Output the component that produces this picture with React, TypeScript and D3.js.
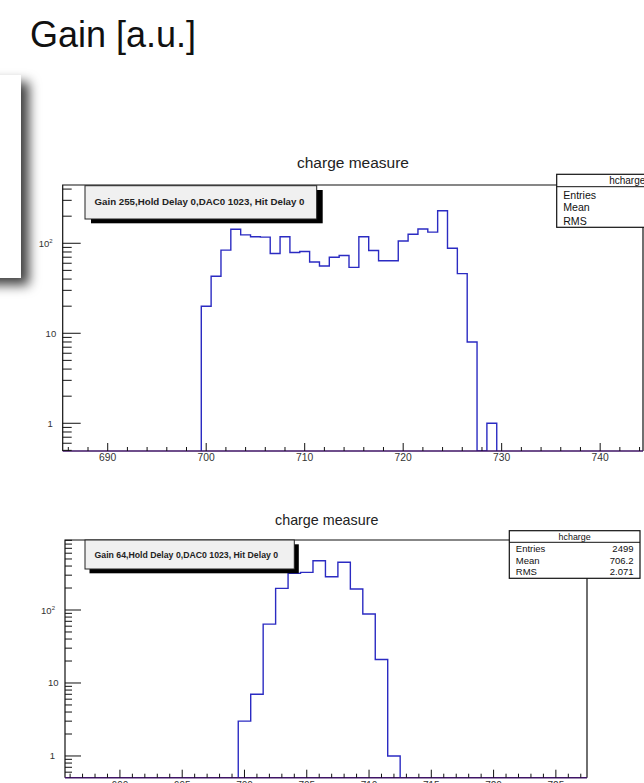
import { useEffect, useRef } from 'react';
import * as d3 from 'd3';

const FONT = '"Liberation Sans", Arial, Helvetica, sans-serif';

// Gain 255 histogram (bin centres, counts)
const topBins = [700, 701, 702, 703, 704, 705, 706, 707, 708, 709, 710, 711, 712, 713, 714, 715, 716, 717, 718, 719, 720, 721, 722, 723, 724, 725, 726, 727, 728, 729];
const topCounts = [20, 43, 84, 143, 124, 118, 117, 77, 118, 79, 81, 62, 56, 70, 73, 54, 118, 83, 64, 64, 106, 126, 144, 133, 230, 88, 46, 8, 0, 1];
const topXTicks = [690, 700, 710, 720, 730, 740];

// Gain 64 histogram
const botBins = [700, 701, 702, 703, 704, 705, 706, 707, 708, 709, 710, 711, 712];
const botCounts = [3, 7, 64, 198, 318, 328, 474, 286, 450, 194, 88, 21, 1];
const botXTicks = [690, 695, 700, 705, 710, 715, 720, 725];

const yMajorTicks = [1, 10, 100];
const statsLabels = ['Entries', 'Mean', 'RMS'];
const botStatsValues = ['2499', '706.2', '2.071'];

type Panel = {
  frame: { left: number; right: number; top: number; bottom: number };
  xDomain: [number, number];
  yDomain: [number, number];
  bins: number[];
  counts: number[];
  xTicks: number[];
  minorStep: number;
  majorLen: number;
  minorLen: number;
  xLabelY: number;
  labelSize: number;
  title: { x: number; y: number; size: number };
  legend: { x: number; y: number; w: number; h: number; dx: number; dy: number; text: string; size: number; len: number; base: number };
  stats: { x: number; y: number; w: number; h: number; sep: number; size: number; rows: number[]; values: string[] | null };
};

const panels: Panel[] = [
  {
    frame: { left: 62.7, right: 643, top: 185, bottom: 451 },
    xDomain: [685.43, 744.35],
    yDomain: [0.492, 444],
    bins: topBins,
    counts: topCounts,
    xTicks: topXTicks,
    minorStep: 2,
    majorLen: 18,
    minorLen: 9,
    xLabelY: 461,
    labelSize: 10.3,
    title: { x: 353, y: 168, size: 15.5 },
    legend: { x: 85, y: 185.7, w: 231.7, h: 33.3, dx: 6, dy: 4.3, text: 'Gain 255,Hold Delay 0,DAC0 1023, Hit Delay 0', size: 9.6, len: 210, base: 205 },
    stats: { x: 556.7, y: 174.3, w: 141, h: 53, sep: 186.7, size: 10.6, rows: [198.5, 211, 224.5], values: null },
  },
  {
    frame: { left: 65, right: 587, top: 540, bottom: 777.7 },
    xDomain: [685.59, 727.5],
    yDomain: [0.504, 910],
    bins: botBins,
    counts: botCounts,
    xTicks: botXTicks,
    minorStep: 1,
    majorLen: 16,
    minorLen: 7,
    xLabelY: 788.5,
    labelSize: 10,
    title: { x: 326.7, y: 525, size: 14.3 },
    legend: { x: 85, y: 540, w: 209.3, h: 29, dx: 4.5, dy: 4.3, text: 'Gain 64,Hold Delay 0,DAC0 1023, Hit Delay 0', size: 8.7, len: 183.6, base: 557.5 },
    stats: { x: 509.3, y: 530.7, w: 130.7, h: 47.6, sep: 542.3, size: 9.5, rows: [552.3, 563.6, 575], values: botStatsValues },
  },
];

function drawPanel(svg: d3.Selection<SVGSVGElement, unknown, null, undefined>, p: Panel, idx: number) {
  const { frame: f } = p;
  const x = d3.scaleLinear().domain(p.xDomain).range([f.left, f.right]);
  const y = d3.scaleLog().domain(p.yDomain).range([f.bottom, f.top]).clamp(true);
  const g = svg.append('g');

  // clip
  const clipId = `clip-${idx}`;
  svg.append('defs').append('clipPath').attr('id', clipId)
    .append('rect').attr('x', f.left).attr('y', f.top).attr('width', f.right - f.left).attr('height', f.bottom - f.top);

  // histogram outline
  const pts: [number, number][] = [];
  const y0 = p.yDomain[0];
  pts.push([p.bins[0] - 0.5, y0]);
  p.bins.forEach((b, i) => {
    const v = Math.max(p.counts[i], y0);
    pts.push([b - 0.5, v]);
    pts.push([b + 0.5, v]);
  });
  pts.push([p.bins[p.bins.length - 1] + 0.5, y0]);
  const line = d3.line<[number, number]>().x(d => x(d[0])).y(d => y(d[1]));
  g.append('path')
    .attr('d', line(pts))
    .attr('fill', 'none')
    .attr('stroke', '#2b2bc2')
    .attr('stroke-width', 1.4)
    .attr('clip-path', `url(#${clipId})`);

  // frame
  g.append('path')
    .attr('d', `M${f.left},${f.bottom}V${f.top}H${f.right}V${f.bottom}`)
    .attr('fill', 'none').attr('stroke', '#111').attr('stroke-width', 1.2);
  g.append('line')
    .attr('x1', f.left).attr('x2', f.right).attr('y1', f.bottom).attr('y2', f.bottom)
    .attr('stroke', '#3f1466').attr('stroke-width', 1.6);

  // x ticks
  const minor = d3.range(Math.ceil(p.xDomain[0] / p.minorStep) * p.minorStep, p.xDomain[1], p.minorStep);
  g.selectAll(null).data(minor).enter().append('line')
    .attr('x1', d => x(d)).attr('x2', d => x(d))
    .attr('y1', f.bottom).attr('y2', d => f.bottom - (p.xTicks.includes(d) ? 8 : 4))
    .attr('stroke', '#111').attr('stroke-width', 1);
  g.selectAll(null).data(p.xTicks).enter().append('text')
    .attr('x', d => x(d)).attr('y', p.xLabelY)
    .attr('text-anchor', 'middle')
    .attr('font-family', FONT).attr('font-size', p.labelSize).attr('fill', '#333')
    .text(d => d);

  // y ticks (log)
  const yMinor: number[] = [];
  [0.1, 1, 10, 100].forEach(dec => {
    for (let k = 2; k <= 9; k++) {
      const v = k * dec;
      if (v >= p.yDomain[0] && v <= p.yDomain[1]) yMinor.push(v);
    }
  });
  g.selectAll(null).data(yMinor).enter().append('line')
    .attr('x1', f.left).attr('x2', f.left + p.minorLen)
    .attr('y1', d => y(d)).attr('y2', d => y(d))
    .attr('stroke', '#111').attr('stroke-width', 1);
  g.selectAll(null).data(yMajorTicks).enter().append('line')
    .attr('x1', f.left).attr('x2', f.left + p.majorLen)
    .attr('y1', d => y(d)).attr('y2', d => y(d))
    .attr('stroke', '#111').attr('stroke-width', 1);
  yMajorTicks.forEach(v => {
    const t = g.append('text')
      .attr('y', y(v) + 3.5)
      .attr('font-family', FONT).attr('font-size', 9.5).attr('fill', '#333')
      .attr('text-anchor', 'end');
    if (v === 100) {
      t.attr('x', f.left - 10).text('10');
      t.append('tspan').attr('dy', -4).attr('font-size', 6).text('2');
    } else if (v === 10) {
      t.attr('x', f.left - 6.5).text('10');
    } else {
      t.attr('x', f.left - 10).text('1');
    }
  });

  // title
  g.append('text')
    .attr('x', p.title.x).attr('y', p.title.y)
    .attr('text-anchor', 'middle')
    .attr('font-family', FONT).attr('font-size', p.title.size).attr('fill', '#222')
    .text('charge measure');

  // legend pave with shadow
  const L = p.legend;
  g.append('rect').attr('x', L.x + L.dx).attr('y', L.y + L.dy).attr('width', L.w).attr('height', L.h).attr('fill', '#000');
  g.append('rect').attr('x', L.x).attr('y', L.y).attr('width', L.w).attr('height', L.h)
    .attr('fill', '#f0f0f0').attr('stroke', '#222').attr('stroke-width', 1);
  g.append('text')
    .attr('x', L.x + 9.5).attr('y', L.base)
    .attr('font-family', FONT).attr('font-size', L.size).attr('font-weight', 'bold').attr('fill', '#222')
    .attr('textLength', L.len).attr('lengthAdjust', 'spacingAndGlyphs')
    .text(L.text);

  // stats box
  const S = p.stats;
  g.append('rect').attr('x', S.x).attr('y', S.y).attr('width', S.w).attr('height', S.h)
    .attr('fill', '#fff').attr('stroke', '#111').attr('stroke-width', 1.2);
  g.append('line').attr('x1', S.x).attr('x2', S.x + S.w).attr('y1', S.sep).attr('y2', S.sep)
    .attr('stroke', '#111').attr('stroke-width', 1);
  g.append('text')
    .attr('x', S.x + S.w / 2).attr('y', S.sep - 2.5)
    .attr('text-anchor', 'middle')
    .attr('font-family', FONT).attr('font-size', S.size - 0.6).attr('fill', '#111')
    .text('hcharge');
  statsLabels.forEach((lab, i) => {
    g.append('text')
      .attr('x', S.x + 6.5).attr('y', S.rows[i])
      .attr('font-family', FONT).attr('font-size', S.size).attr('fill', '#111')
      .text(lab);
    if (S.values) {
      g.append('text')
        .attr('x', S.x + S.w - 6.5).attr('y', S.rows[i])
        .attr('text-anchor', 'end')
        .attr('font-family', FONT).attr('font-size', S.size).attr('fill', '#111')
        .text(S.values[i]);
    }
  });
}

export default function App() {
  const svgRef = useRef<SVGSVGElement>(null);

  useEffect(() => {
    const svg = d3.select(svgRef.current as SVGSVGElement);
    svg.selectAll('*').remove();

    // slide background
    svg.append('rect').attr('width', 644).attr('height', 783).attr('fill', '#fff');

    // shadowed box at the left edge
    const defs = svg.append('defs');
    const filt = defs.append('filter').attr('id', 'boxShadow')
      .attr('x', '-50%').attr('y', '-50%').attr('width', '200%').attr('height', '200%');
    filt.append('feDropShadow')
      .attr('dx', 8).attr('dy', 7).attr('stdDeviation', 6)
      .attr('flood-color', '#000').attr('flood-opacity', 0.75);
    svg.append('rect')
      .attr('x', -40).attr('y', 75).attr('width', 61).attr('height', 203)
      .attr('fill', '#fff').attr('filter', 'url(#boxShadow)');

    // slide heading
    svg.append('text')
      .attr('x', 30).attr('y', 47)
      .attr('font-family', FONT).attr('font-size', 36).attr('fill', '#111')
      .text('Gain [a.u.]');

    panels.forEach((p, i) => drawPanel(svg, p, i));
  }, []);

  return (
    <svg
      ref={svgRef}
      width={644}
      height={783}
      style={{ position: 'absolute', left: 0, top: 0, display: 'block' }}
    />
  );
}
